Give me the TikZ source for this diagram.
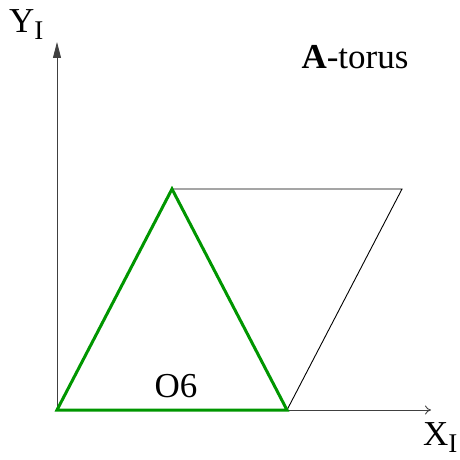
\documentclass[tikz,border=0pt]{standalone}
\usepackage{fontspec}
\setmainfont{Liberation Serif}
\usetikzlibrary{arrows.meta}
\definecolor{ogreen}{RGB}{0,150,0}
\tikzset{
  axis/.style={line width=0.9pt, black!75},
  thinedge/.style={line width=0.9pt, black},
  greenedge/.style={line width=3pt, ogreen, line join=miter},
  lbl/.style={inner sep=0pt, font=\fontsize{35}{40}\selectfont}
}
\begin{document}
\begin{tikzpicture}[x=1pt,y=1pt]
\useasboundingbox (0,0) rectangle (460,459);
\coordinate (O) at (57,49);
\coordinate (B) at (287,49);
\coordinate (C) at (402,270);
\coordinate (T) at (172,270);
\coordinate (ytip) at (57,417);
\coordinate (xtip) at (431,49);
\draw[axis, -{Triangle[length=16pt,width=8pt]}] (O) -- (ytip);
\draw[axis, -{To[length=6pt,width=9pt]}] (O) -- (xtip);
\draw[thinedge] (T) -- (C) -- (B);
\draw[greenedge] (O) -- (T) -- (B) -- cycle;
\node[lbl, anchor=base west] (ylab) at (9,426) {Y\raisebox{-7pt}{\fontsize{27}{30}\selectfont I}};
\node[lbl, anchor=base west] (xlab) at (423,14) {X\raisebox{-7pt}{\fontsize{27}{30}\selectfont I}};
\node[lbl, anchor=base] (torus) at (355,390) {\textbf{A}-torus};
\node[lbl, anchor=base] (o6) at (176,62) {O6};
\end{tikzpicture}
\end{document}
